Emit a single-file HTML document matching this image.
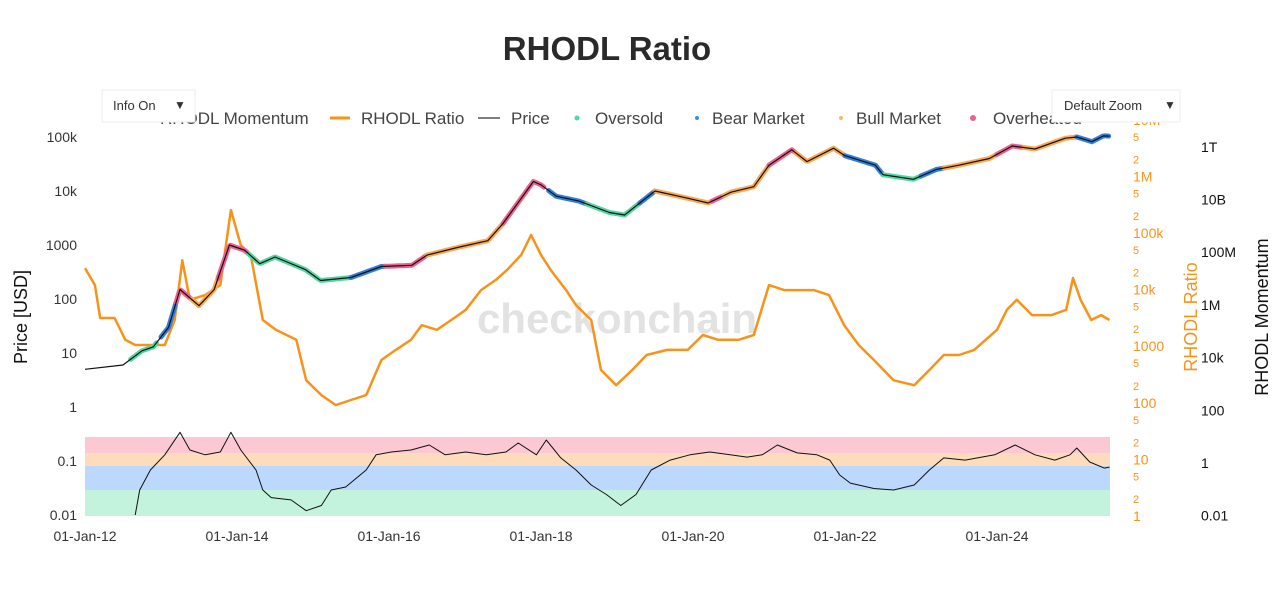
<!DOCTYPE html>
<html><head><meta charset="utf-8"><style>
body{margin:0;background:#fff;font-family:"Liberation Sans",sans-serif;}
svg text{font-family:"Liberation Sans",sans-serif;}
</style></head><body>
<svg id="c" width="1280" height="585" xmlns="http://www.w3.org/2000/svg">
<rect width="1280" height="585" fill="#fff"/>
<rect x="85" y="437" width="1025" height="16" fill="#fcc8d4"/>
<rect x="85" y="453" width="1025" height="13" fill="#fcdcbc"/>
<rect x="85" y="466" width="1025" height="24" fill="#bcd8fc"/>
<rect x="85" y="490" width="1025" height="26" fill="#c3f3dc"/>
<text x="617" y="333" font-size="42" font-weight="bold" fill="#e2e2e2" text-anchor="middle">checkonchain</text>
<g id="plot"></g>
<text x="607" y="60" font-size="33" font-weight="bold" fill="#2a2a2a" text-anchor="middle">RHODL Ratio</text>
<g font-size="17" fill="#444">
<text x="160" y="124">RHODL Momentum</text>
<line x1="330" y1="118" x2="350" y2="118" stroke="#f7931a" stroke-width="3"/>
<text x="361" y="124">RHODL Ratio</text>
<line x1="478" y1="118" x2="500" y2="118" stroke="#333" stroke-width="1.2"/>
<text x="511" y="124">Price</text>
<circle cx="577" cy="118" r="2.5" fill="#50d6a0"/>
<text x="595" y="124">Oversold</text>
<circle cx="697" cy="118" r="2" fill="#3a8ee6"/>
<text x="712" y="124">Bear Market</text>
<circle cx="841" cy="118" r="2" fill="#fbb56a"/>
<text x="856" y="124">Bull Market</text>
<circle cx="973" cy="118" r="3" fill="#ee5f8c"/>
<text x="993" y="124">Overheated</text>
</g>
<g>
<rect x="102" y="90" width="93" height="32" fill="#fff" stroke="#eee"/>
<text x="113" y="110" font-size="13" fill="#333">Info On</text>
<text x="174" y="109" font-size="12" fill="#333">▼</text>
</g>
<g>
<rect x="1052" y="90" width="128" height="32" fill="#fff" stroke="#eee"/>
<text x="1064" y="110" font-size="13" fill="#333">Default Zoom</text>
<text x="1164" y="109" font-size="12" fill="#333">▼</text>
</g>
<text transform="translate(27,317) rotate(-90)" font-size="18" fill="#111" text-anchor="middle">Price [USD]</text>
<text transform="translate(1197,317) rotate(-90)" font-size="18" fill="#f7931a" text-anchor="middle">RHODL Ratio</text>
<text transform="translate(1268,317) rotate(-90)" font-size="18" fill="#111" text-anchor="middle">RHODL Momentum</text>
</svg>
<script>
const xTickLabels=["01-Jan-12","01-Jan-14","01-Jan-16","01-Jan-18","01-Jan-20","01-Jan-22","01-Jan-24"];
const xTickYears=[2012,2014,2016,2018,2020,2022,2024];
const priceTickLabels=["0.01","0.1","1","10","100","1000","10k","100k"];
const priceTickValues=[0.01,0.1,1,10,100,1000,10000,100000];
const rhodlTickLabels=["1","10","100","1000","10k","100k","1M","10M"];
const rhodlTickValues=[1,10,100,1000,10000,100000,1000000,10000000];
const momTickLabels=["0.01","1","100","10k","1M","100M","10B","1T"];
const momTickValues=[0.01,1,100,1e4,1e6,1e8,1e10,1e12];

const priceYears=[2012.0,2012.5,2012.75,2012.9,2013.1,2013.25,2013.5,2013.7,2013.9,2014.1,2014.3,2014.5,2014.9,2015.1,2015.5,2015.9,2016.3,2016.5,2016.9,2017.3,2017.5,2017.9,2018.0,2018.2,2018.5,2018.9,2019.1,2019.5,2019.9,2020.2,2020.5,2020.8,2021.0,2021.3,2021.5,2021.85,2022.0,2022.4,2022.5,2022.9,2023.2,2023.5,2023.9,2024.2,2024.5,2024.9,2025.05,2025.25,2025.4,2025.48];
const priceValues=[5,6,11,13,30,150,75,150,1000,800,450,600,350,220,250,400,420,650,900,1200,2500,15000,13000,8000,6500,4000,3600,10000,7500,6000,9500,12000,30000,58000,35000,62000,45000,30000,20000,16500,25000,30000,40000,68000,60000,95000,100000,82000,105000,104000];
const regimeStarts=[2012.6,2013.0,2013.2,2013.4,2013.75,2014.15,2015.5,2015.95,2016.5,2017.5,2018.1,2018.6,2019.3,2019.5,2020.25,2020.4,2021.0,2021.35,2022.0,2022.5,2023.0,2023.3,2024.0,2024.35,2025.05];
const regimeEnds=[2012.95,2013.2,2013.4,2013.75,2014.15,2015.5,2015.95,2016.5,2017.5,2018.05,2018.6,2019.3,2019.5,2020.25,2020.4,2021.0,2021.35,2022.0,2022.5,2023.0,2023.3,2024.0,2024.35,2025.05,2025.48];
const regimeKinds=["o","b","h","u","h","o","b","h","u","h","b","o","b","u","h","u","h","u","b","o","b","u","h","u","b"];

const rhodlYears=[2012.0,2012.13,2012.2,2012.39,2012.53,2012.66,2012.86,2013.05,2013.18,2013.28,2013.38,2013.58,2013.78,2013.92,2014.05,2014.18,2014.34,2014.51,2014.78,2014.91,2015.11,2015.3,2015.5,2015.7,2015.9,2016.09,2016.29,2016.43,2016.63,2016.82,2017.01,2017.21,2017.41,2017.55,2017.74,2017.87,2018.0,2018.13,2018.33,2018.46,2018.66,2018.79,2018.99,2019.2,2019.39,2019.66,2019.93,2020.13,2020.33,2020.6,2020.8,2021.0,2021.2,2021.39,2021.59,2021.79,2021.99,2022.18,2022.38,2022.64,2022.91,2023.11,2023.3,2023.5,2023.7,2024.0,2024.13,2024.26,2024.46,2024.72,2024.91,2025.0,2025.1,2025.24,2025.37,2025.48];
const rhodlValues=[24000,12000,3150,3150,1300,1050,1050,1050,2900,33000,6600,8000,12000,255000,61000,41000,2900,1950,1300,250,137,91,112,137,570,860,1300,2350,1950,2900,4400,9800,15000,22000,41000,92000,41000,22000,9800,5300,2900,380,205,380,700,860,860,1580,1300,1300,1580,12000,9800,9800,9800,8000,2350,1050,570,250,205,380,700,700,860,1950,4400,6600,3550,3550,4400,16000,6600,2900,3550,2900];

const momYears=[2012.66,2012.72,2012.86,2013.05,2013.25,2013.38,2013.58,2013.78,2013.92,2014.05,2014.25,2014.34,2014.45,2014.71,2014.91,2015.11,2015.24,2015.43,2015.7,2015.83,2016.03,2016.29,2016.53,2016.74,2017.01,2017.28,2017.54,2017.7,2017.94,2018.07,2018.26,2018.46,2018.66,2018.86,2019.05,2019.25,2019.45,2019.7,2019.96,2020.22,2020.49,2020.71,2020.91,2021.11,2021.37,2021.63,2021.8,2021.93,2022.07,2022.38,2022.64,2022.91,2023.11,2023.3,2023.58,2023.97,2024.24,2024.5,2024.76,2024.96,2025.05,2025.22,2025.41,2025.48];
const momValues=[0.01,0.029,0.068,0.13,0.34,0.16,0.13,0.147,0.34,0.16,0.068,0.029,0.021,0.019,0.012,0.015,0.029,0.033,0.068,0.13,0.147,0.16,0.198,0.13,0.147,0.13,0.147,0.215,0.13,0.245,0.114,0.068,0.036,0.024,0.015,0.024,0.068,0.104,0.13,0.147,0.13,0.118,0.13,0.198,0.141,0.13,0.104,0.055,0.039,0.031,0.029,0.036,0.068,0.114,0.104,0.13,0.198,0.13,0.104,0.13,0.174,0.096,0.074,0.077];

const X=y=>85+(y-2012)*76;
const YP=v=>407-54*Math.log10(v);
const YR=v=>516-56.6*Math.log10(v);
const YM=v=>463-26.35*Math.log10(v);
const NS="http://www.w3.org/2000/svg";
const plot=document.getElementById('plot');
function mk(tag,attrs,parent){const e=document.createElementNS(NS,tag);for(const k in attrs)e.setAttribute(k,attrs[k]);(parent||plot).appendChild(e);return e;}
function lerpLog(ys,vs,t){for(let i=0;i<ys.length-1;i++){if(t>=ys[i]&&t<=ys[i+1]){const f=(t-ys[i])/(ys[i+1]-ys[i]);return Math.pow(10,Math.log10(vs[i])+f*(Math.log10(vs[i+1])-Math.log10(vs[i])));}}return vs[vs.length-1];}

xTickYears.forEach((y,i)=>{const t=mk('text',{x:X(y),y:541,'font-size':14,fill:'#333','text-anchor':'middle'});t.textContent=xTickLabels[i];

});
priceTickValues.forEach((v,i)=>{const t=mk('text',{x:77,y:YP(v)+5,'font-size':14,fill:'#333','text-anchor':'end'});t.textContent=priceTickLabels[i];

});
rhodlTickValues.forEach((v,i)=>{const t=mk('text',{x:1133,y:YR(v)+5,'font-size':14,fill:'#f7931a'});t.textContent=rhodlTickLabels[i];


if(i<7){[2,5].forEach(m=>{const s=mk('text',{x:1133,y:YR(v*m)+4,'font-size':11,fill:'#f7931a'});s.textContent=String(m);

});}});
momTickValues.forEach((v,i)=>{const t=mk('text',{x:1201,y:YM(v)+5,'font-size':14,fill:'#111'});t.textContent=momTickLabels[i];

});

let d=rhodlYears.map((y,i)=>(i?'L':'M')+X(y).toFixed(1)+','+YR(rhodlValues[i]).toFixed(1)).join('');
const rl=mk('path',{d:d,fill:'none',stroke:'#f7931a','stroke-width':2.5,'stroke-linejoin':'round'});



const rc={o:'#50d6a0',b:'#2f7fdc',u:'#fba850',h:'#ee5f8c'};
regimeStarts.forEach((s,i)=>{let pts=[];for(let t=s;t<=regimeEnds[i]+1e-9;t+=0.02){pts.push(X(t).toFixed(1)+','+YP(lerpLog(priceYears,priceValues,t)).toFixed(1));}
const p=mk('polyline',{points:pts.join(' '),fill:'none',stroke:rc[regimeKinds[i]],'stroke-width':5,'stroke-linejoin':'round','stroke-linecap':'round'});

});

d=priceYears.map((y,i)=>(i?'L':'M')+X(y).toFixed(1)+','+YP(priceValues[i]).toFixed(1)).join('');
const pl=mk('path',{d:d,fill:'none',stroke:'#111','stroke-width':1.2,'stroke-linejoin':'round'});



d=momYears.map((y,i)=>(i?'L':'M')+X(y).toFixed(1)+','+YP(momValues[i]).toFixed(1)).join('');
const ml=mk('path',{d:d,fill:'none',stroke:'#111','stroke-width':1,'stroke-linejoin':'round'});


</script>
</body></html>
